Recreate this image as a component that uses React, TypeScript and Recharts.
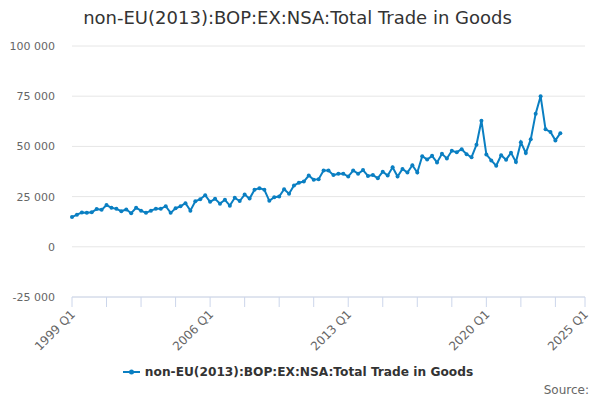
import { LineChart, Line, XAxis, YAxis, CartesianGrid, Legend } from "recharts";

const SERIES_NAME = "non-EU(2013):BOP:EX:NSA:Total Trade in Goods";
const FIRST_QUARTER = "1999 Q1";

// quarterly values, 1999 Q1 .. 2023 Q4
const tradeValues = [
    14800, 16000, 17100, 16900, 17200, 18800, 18400, 20800,
    19400, 18900, 17700, 18600, 16700, 19400, 18000, 16900,
    18000, 18900, 18900, 20200, 16900, 19200, 20200, 21700,
    18000, 22700, 23700, 25700, 22400, 23900, 21500, 23400,
    20500, 24400, 22800, 26000, 24000, 28400, 29200, 28400,
    22900, 24700, 25000, 28700, 26400, 30500, 31900, 32500,
    35500, 33400, 33700, 38000, 38000, 35700, 36400, 36400,
    35000, 38000, 36400, 38200, 35300, 35700, 34200, 37400,
    35500, 39600, 35000, 38800, 37000, 40600, 37000, 45100,
    43500, 45300, 42000, 46300, 44000, 47800, 47100, 48600,
    46100, 44600, 50800, 62800, 46000, 43000, 40400, 45600,
    43400, 46800, 42200, 52100, 46700, 53500, 66300, 75000,
    58500, 57200, 53000, 56600,
];

const xTickLabels = ["1999 Q1", "2006 Q1", "2013 Q1", "2020 Q1", "2025 Q1"];
const xMinorStep = 7;
const yTicks = [-25000, 0, 25000, 50000, 75000, 100000];

const COLOR = "#0a7fc2";
const FONT = "'DejaVu Sans', Verdana, sans-serif";

const quarterIndex = (label: string) => {
    const [y, q] = label.split(" Q").map(Number);
    const [y0, q0] = FIRST_QUARTER.split(" Q").map(Number);
    return (y - y0) * 4 + (q - q0);
};

const quarterLabel = (idx: number) => {
    const [y0] = FIRST_QUARTER.split(" Q").map(Number);
    return `${y0 + Math.floor(idx / 4)} Q${(idx % 4) + 1}`;
};

const data = tradeValues.map((value, idx) => ({ idx, period: quarterLabel(idx), value }));

const labelPositions = xTickLabels.map(quarterIndex);
const axisEnd = labelPositions[labelPositions.length - 1];
const xTicks: number[] = [];
for (let t = 0; t < axisEnd; t += xMinorStep) xTicks.push(t);
xTicks.push(axisEnd);

const formatThousands = (v: number) =>
    (v < 0 ? "-" : "") + Math.abs(v).toString().replace(/\B(?=(\d{3})+(?!\d))/g, " ");

const XTick = (props: any) => {
    const { x, y, payload } = props;
    const pos = labelPositions.indexOf(payload.value);
    if (pos < 0) return null;
    return (
        <text
            x={0}
            y={0}
            transform={`translate(${x + 4},${y + 6}) rotate(-45)`}
            textAnchor="end"
            fontSize={12}
            fontFamily={FONT}
            fill="#666666"
        >
            {xTickLabels[pos]}
        </text>
    );
};

const LegendContent = () => (
    <div
        style={{
            display: "flex",
            justifyContent: "center",
            alignItems: "center",
            fontFamily: FONT,
            position: "relative",
            left: -2,
        }}
    >
        <svg width={17} height={12} style={{ marginRight: 5 }}>
            <line x1={0} y1={6} x2={17} y2={6} stroke={COLOR} strokeWidth={2} />
            <circle cx={8.5} cy={6} r={2.5} fill={COLOR} />
        </svg>
        <span style={{ fontSize: 12.2, fontWeight: "bold", color: "#333333" }}>{SERIES_NAME}</span>
    </div>
);

const App = () => {
    return (
        <div style={{ position: "absolute", left: 0, top: 0, width: 600, height: 400, background: "#fff" }}>
            <div
                style={{
                    position: "absolute",
                    top: 7,
                    left: 0,
                    width: 595,
                    textAlign: "center",
                    fontFamily: FONT,
                    fontSize: 18,
                    color: "#333333",
                }}
            >
                {SERIES_NAME}
            </div>
            <LineChart
                width={600}
                height={400}
                data={data}
                margin={{ top: 46, right: 15, bottom: 0, left: 0 }}
            >
                <CartesianGrid vertical={false} stroke="#e6e6e6" />
                <XAxis
                    dataKey="idx"
                    type="number"
                    domain={[0, axisEnd]}
                    ticks={xTicks}
                    interval={0}
                    stroke="#ccd6eb"
                    tickSize={10}
                    tick={<XTick />}
                    height={103}
                />
                <YAxis
                    type="number"
                    domain={[yTicks[0], yTicks[yTicks.length - 1]]}
                    ticks={yTicks}
                    interval={0}
                    width={72}
                    axisLine={false}
                    tickLine={false}
                    tickSize={0}
                    tickMargin={17}
                    tickFormatter={formatThousands}
                    tick={{ fontSize: 11, fill: "#666666", fontFamily: FONT }}
                />
                <Legend
                    verticalAlign="middle"
                    align="center"
                    layout="horizontal"
                    content={<LegendContent />}
                    wrapperStyle={{ top: 365, left: 0, width: 600 }}
                />
                <Line
                    type="linear"
                    dataKey="value"
                    name={SERIES_NAME}
                    stroke={COLOR}
                    strokeWidth={2}
                    dot={{ r: 2, fill: COLOR, stroke: COLOR, strokeWidth: 0 }}
                    activeDot={false}
                    isAnimationActive={false}
                />
            </LineChart>
            <div
                style={{
                    position: "absolute",
                    top: 383,
                    right: 11,
                    fontFamily: FONT,
                    fontSize: 12,
                    color: "#666666",
                }}
            >
                Source:
            </div>
        </div>
    );
};

export default App;
